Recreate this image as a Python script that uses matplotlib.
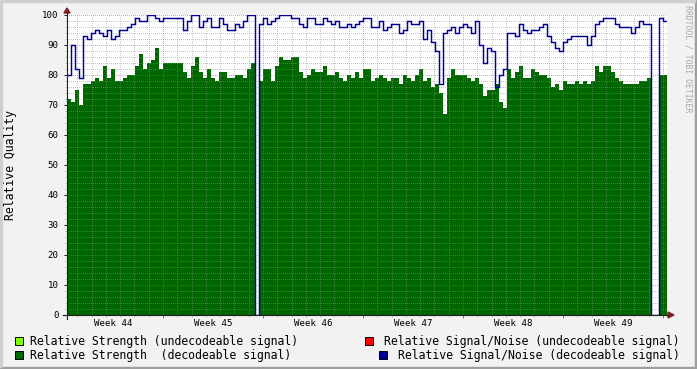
import matplotlib
matplotlib.use("Agg")
import matplotlib.pyplot as plt
import numpy as np
from matplotlib.patches import Rectangle, Polygon
from matplotlib.lines import Line2D

plt.rcParams['font.family'] = 'DejaVu Sans Mono'

W, H = 697, 369

# samples every 0.28 day (6.72 h), days counted from monday of week 44
start_day = 0.28
step_day = 0.28

# relative strength (decodeable signal)
strength = [72, 71, 75, 70, 77, 77, 78, 79, 78, 83, 79, 82, 78, 78, 79, 80, 80, 83, 87, 82, 84, 85, 89, 82, 84,
            84, 84, 84, 84, 81, 79, 83, 86, 81, 79, 82, 79, 78, 81, 81, 79, 79, 80, 80, 79, 82, 84, 0, 78, 82,
            82, 78, 83, 86, 85, 85, 86, 86, 81, 79, 80, 82, 81, 81, 83, 80, 80, 81, 79, 78, 80, 79, 81, 79, 82,
            82, 78, 79, 80, 79, 78, 79, 79, 77, 80, 79, 78, 80, 82, 78, 79, 76, 77, 74, 67, 79, 82, 80, 80, 80,
            79, 78, 79, 77, 73, 75, 75, 77, 71, 69, 82, 79, 81, 83, 79, 79, 82, 81, 80, 80, 79, 76, 77, 75, 78,
            77, 77, 78, 77, 78, 77, 78, 83, 81, 83, 83, 81, 79, 78, 77, 77, 77, 77, 78, 78, 79, 0, 0, 80, 80]

# relative signal/noise (decodeable signal)
snr = [80, 90, 82, 79, 93, 92, 94, 95, 94, 93, 95, 92, 93, 95, 95, 96, 97, 99, 98, 98, 100, 100, 99, 98, 99,
       99, 99, 99, 99, 95, 98, 100, 100, 96, 98, 99, 96, 96, 99, 97, 95, 95, 97, 96, 98, 100, 100, 0, 97, 99,
       97, 98, 99, 100, 100, 100, 99, 99, 97, 96, 99, 99, 97, 97, 99, 98, 97, 98, 96, 96, 97, 96, 97, 98, 99,
       99, 96, 96, 98, 95, 96, 97, 97, 94, 95, 98, 97, 97, 98, 92, 95, 91, 88, 77, 94, 95, 96, 94, 96, 97,
       96, 94, 98, 90, 84, 89, 88, 76, 80, 82, 94, 94, 93, 97, 95, 94, 95, 95, 96, 97, 93, 91, 89, 88, 91,
       92, 93, 93, 93, 93, 90, 93, 97, 98, 99, 99, 99, 97, 96, 96, 96, 94, 96, 98, 97, 97, 0, 0, 99, 98]

week_labels = ["Week 44", "Week 45", "Week 46", "Week 47", "Week 48", "Week 49"]

legend_items = [
    ("Relative Strength (undecodeable signal)", "#80FF00"),
    ("Relative Strength  (decodeable signal)", "#006600"),
    ("Relative Signal/Noise (undecodeable signal)", "#FF0000"),
    ("Relative Signal/Noise (decodeable signal)", "#000099"),
]

BACK = "#F2F2F2"
GRID = (0.56, 0.56, 0.56, 0.5)
MGRID = (0.87, 0.31, 0.31, 0.55)
ARROW = "#801F1F"
AXIS = "#1F1F1F"


def fx(x):
    return x / W


def fy(y):
    return 1 - y / H


fig = plt.figure(figsize=(W / 100, H / 100), dpi=100, facecolor=BACK)
ax = fig.add_axes([fx(67), fy(315), 600 / W, 300 / H])
ax.set_facecolor("white")
for s in ax.spines.values():
    s.set_visible(False)

n = len(strength)
edges = start_day + step_day * np.arange(n + 1)
ax.stairs(strength, edges, fill=True, color="#006600", baseline=0, zorder=1)
ax.stairs(snr, edges, color="#000099", baseline=None, lw=1.05, zorder=4)

x0, x1 = edges[0], edges[-1]
ax.set_xlim(x0, x1)
ax.set_ylim(0, 100)

# grid (rrdtool draws it over the graph)
dash = (0, (1, 2))
for v in range(2, 101, 2):
    col = MGRID if v % 10 == 0 else GRID
    ax.axhline(v, color=col, lw=0.72, ls=dash, zorder=2, antialiased=False)
for d in range(1, 43):
    col = MGRID if d % 7 == 0 else GRID
    ax.axvline(d, color=col, lw=0.72, ls=dash, zorder=2, antialiased=False)

ax.set_yticks(range(0, 101, 10))
ax.set_yticks(range(0, 101, 2), minor=True)
ax.set_xticks(range(7, 43, 7))
ax.set_xticks(range(1, 43), minor=True)
ax.set_xticklabels([])
ax.tick_params(axis="y", which="major", length=2.2, width=0.72, color=AXIS, pad=4,
               labelsize=6.6, labelcolor="black")
ax.tick_params(axis="y", which="minor", length=1.4, width=0.72, color=GRID)
ax.tick_params(axis="x", which="major", length=2.2, width=0.72, color=MGRID[:3], direction="out")
ax.tick_params(axis="x", which="minor", length=1.4, width=0.72, color=GRID, direction="out")

for i, lab in enumerate(week_labels):
    ax.text(3.5 + 7 * i, -3.0, lab, ha="center", va="center", fontsize=6.6)

# axes with arrows
fig.add_artist(Line2D([fx(67), fx(67)], [fy(319), fy(12)], color=AXIS, lw=0.8))
fig.add_artist(Line2D([fx(63), fx(669)], [fy(315), fy(315)], color=AXIS, lw=0.8))
fig.add_artist(Polygon([[fx(64), fy(13)], [fx(70), fy(13)], [fx(67), fy(8)]], closed=True,
                       color=ARROW, transform=fig.transFigure))
fig.add_artist(Polygon([[fx(668), fy(312)], [fx(668), fy(318)], [fx(674), fy(315)]], closed=True,
                       color=ARROW, transform=fig.transFigure))

# axis title and watermark
fig.text(fx(11), fy(165), "Relative Quality", rotation=90, ha="center", va="center", fontsize=8.3)
fig.text(fx(688), fy(59), "RRDTOOL / TOBI OETIKER", rotation=270, ha="center", va="center",
         fontsize=5.9, color="#A8A8A8")

# legend
rows = [341, 355]
for j, (lab, col) in enumerate(legend_items):
    r = rows[j % 2]
    if j < 2:
        bx = 15
        fig.text(fx(30), fy(r), lab, ha="left", va="center", fontsize=8.3)
    else:
        bx = 680 - 7 * len(lab) - 14
        fig.text(fx(680), fy(r), lab, ha="right", va="center", fontsize=8.3)
    fig.add_artist(Rectangle((fx(bx), fy(r + 4)), 8 / W, 8 / H, facecolor=col, edgecolor="black",
                             lw=0.7, transform=fig.transFigure))

# 3d frame
fig.add_artist(Rectangle((0, 0), 1, 2 / H, color="#9E9E9E", transform=fig.transFigure))
fig.add_artist(Rectangle((1 - 2 / W, 0), 2 / W, 1, color="#9E9E9E", transform=fig.transFigure))
fig.add_artist(Rectangle((0, 1 - 2 / H), 1 - 2 / W, 2 / H, color="#CFCFCF", transform=fig.transFigure))
fig.add_artist(Rectangle((0, 2 / H), 2 / W, 1 - 4 / H, color="#CFCFCF", transform=fig.transFigure))

fig.savefig("out.png", dpi=100, facecolor=BACK)
